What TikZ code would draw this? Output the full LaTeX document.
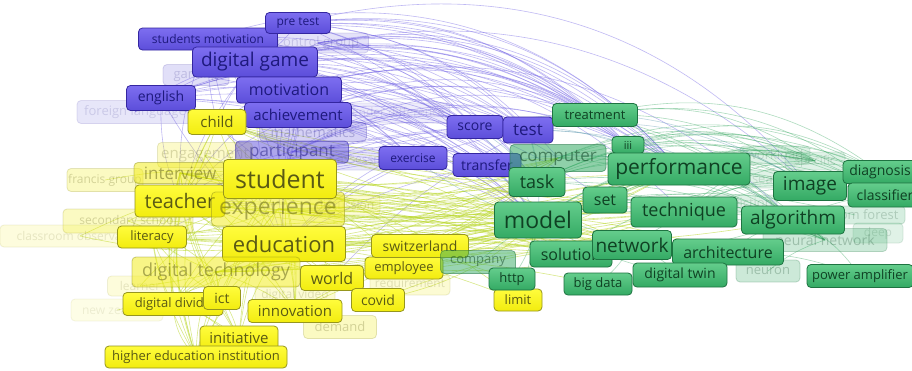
\documentclass[tikz,border=0pt]{standalone}
\usepackage{fontspec}
\setmainfont{Open Sans}
\usetikzlibrary{backgrounds}
\definecolor{pT}{RGB}{125,110,240}
\definecolor{pBo}{RGB}{92,78,218}
\definecolor{pB}{RGB}{52,38,160}
\definecolor{pX}{RGB}{30,25,125}
\definecolor{yT}{RGB}{255,252,60}
\definecolor{yBo}{RGB}{242,236,15}
\definecolor{yB}{RGB}{150,150,30}
\definecolor{yX}{RGB}{90,90,20}
\definecolor{gT}{RGB}{100,205,140}
\definecolor{gBo}{RGB}{52,170,100}
\definecolor{gB}{RGB}{30,115,65}
\definecolor{gX}{RGB}{15,65,35}
\definecolor{eP}{RGB}{115,100,230}
\definecolor{eY}{RGB}{185,215,40}
\definecolor{eG}{RGB}{60,170,100}
\definecolor{eT}{RGB}{90,150,175}
\tikzset{
  kw/.style={rounded corners=4pt, inner sep=0pt, line width=0.8pt, align=center},
  wh/.style 2 args={minimum width=#1, minimum height=#2},
  fs/.style={font=\fontsize{#1}{#1}\selectfont},
  P/.style={kw, draw=pB, top color=pT, bottom color=pBo, text=pX},
  Y/.style={kw, draw=yB, top color=yT, bottom color=yBo, text=yX},
  G/.style={kw, draw=gB, top color=gT, bottom color=gBo, text=gX},
  PF/.style={kw, draw=pB, fill=pBo, text=pX, opacity=#1},
  YF/.style={kw, draw=yB, fill=yBo, text=yX, opacity=#1},
  GF/.style={kw, draw=gB, fill=gBo, text=gX, opacity=#1},
  lP/.style={draw=eP, line width=0.6pt, opacity=0.45},
  lY/.style={draw=eY, line width=0.6pt, opacity=0.55},
  lG/.style={draw=eG, line width=0.6pt, opacity=0.42},
  lT/.style={draw=eT, line width=0.6pt, opacity=0.4},
}
\begin{document}
\begin{tikzpicture}[x=1pt,y=-1pt]
\useasboundingbox (0,0) rectangle (912,370);
\clip (0,0) rectangle (912,370);
% ---------- faded nodes ----------
\node[PF=0.16,fs=13,wh={101}{20}] (controlgroup) at (318,43) {control group};
\node[PF=0.18,fs=13,wh={66}{21}] (gaming) at (196,75) {gaming};
\node[PF=0.14,fs=13,wh={116}{23}] (foreign) at (135,112) {foreign language};
\node[PF=0.1,fs=12,wh={110}{20}] (genderdiff) at (395,113) {gender difference};
\node[PF=0.25,fs=14,wh={107}{19}] (mathematics) at (313,132) {mathematics};
\node[PF=0.14,fs=12,wh={80}{20}] (assessment) at (370,160) {assessment};
\node[YF=0.22,fs=15,wh={95}{25}] (engagement) at (205,155) {engagement};
\node[PF=0.5,fs=17,wh={113}{22}] (participant) at (292,152) {participant};
\node[YF=0.25,fs=12,wh={76}{23}] (francis) at (105,180) {francis group};
\node[YF=0.5,fs=17,wh={92}{21}] (interview) at (180,173) {interview};
\node[YF=0.25,fs=12,wh={130}{24}] (secondary) at (128,221) {secondary school};
\node[YF=0.14,fs=12,wh={160}{22}] (classroom) at (80,236) {classroom observation};
\node[YF=0.15,fs=12,wh={65}{20}] (learner) at (140,286) {learner};
\node[YF=0.1,fs=12,wh={92}{22}] (newzealand) at (117,310) {new zealand};
\node[YF=0.18,fs=12,wh={80}{18}] (digvideo) at (295,295) {digital video};
\node[YF=0.25,fs=13,wh={73}{23}] (demand) at (340,327) {demand};
\node[YF=0.18,fs=12,wh={80}{20}] (requirement) at (410,285) {requirement};
\node[YF=0.16,fs=12,wh={70}{20}] (discussion) at (345,205) {discussion};
\node[GF=0.15,fs=13,wh={70}{18}] (workload) at (775,155) {workload};
\node[GF=0.15,fs=12,wh={60}{18}] (specific) at (815,161) {specific};
\node[GF=0.15,fs=13,wh={60}{18}] (search) at (772,179) {search};
\node[GF=0.15,fs=13,wh={70}{18}] (prediction) at (742,204) {prediction};
\node[GF=0.2,fs=13,wh={100}{18}] (randomforest) at (855,215) {random forest};
\node[GF=0.15,fs=12,wh={50}{20}] (deep) at (878,233) {deep};
\node[GF=0.25,fs=14,wh={124}{23}] (neuralnet) at (825,240) {neural network};
\node[GF=0.25,fs=13,wh={64}{22}] (neuron) at (768,271) {neuron};
% ---------- purple ----------
\node[P,fs=12,wh={139}{22}] (studmot) at (208,39) {students motivation};
\node[P,fs=12,wh={65}{21}] (pretest) at (298,23) {pre test};
\node[P,fs=19,wh={125}{30}] (diggame) at (255,62) {digital game};
\node[P,fs=14,wh={69}{25}] (english) at (161,98) {english};
\node[P,fs=16,wh={105}{26}] (motiv) at (289,90) {motivation};
\node[P,fs=15,wh={107}{25}] (achiev) at (298,115) {achievement};
\node[P,fs=12,wh={68}{23}] (exercise) at (413,158) {exercise};
\node[P,fs=14,wh={68}{23}] (transfer) at (487,165) {transfer};
\node[P,fs=14,wh={56}{23}] (score) at (475,127) {score};
\node[P,fs=17,wh={50}{26}] (test) at (528,130) {test};
% ---------- yellow ----------
\node[Y,fs=15,wh={58}{25}] (child) at (217,122) {child};
\node[Y,fs=20,wh={90}{32}] (teacher) at (180,201) {teacher};
\node[YF=0.5,fs=23,wh={133}{34}] (experience) at (278,209) {experience};
\node[Y,fs=25,wh={113}{39}] (student) at (280,179) {student};
\node[Y,fs=13,wh={69}{22}] (literacy) at (152,237) {literacy};
\node[Y,fs=22,wh={123}{35}] (education) at (284,244) {education};
\node[YF=0.5,fs=18,wh={168}{30}] (digtech) at (216,272) {digital technology};
\node[Y,fs=16,wh={63}{25}] (world) at (332,278) {world};
\node[Y,fs=13,wh={100}{23}] (digdivide) at (173,304) {digital divide};
\node[Y,fs=14,wh={37}{23}] (ict) at (222,298) {ict};
\node[Y,fs=15,wh={94}{23}] (innovation) at (295,311) {innovation};
\node[Y,fs=15,wh={78}{24}] (initiative) at (239,338) {initiative};
\node[Y,fs=13,wh={182}{22}] (hei) at (196,357) {higher education institution};
\node[Y,fs=13,wh={78}{22}] (employee) at (404,268) {employee};
\node[Y,fs=14,wh={97}{23}] (switz) at (420,246) {switzerland};
\node[Y,fs=14,wh={53}{23}] (covid) at (378,300) {covid};
\node[Y,fs=13,wh={48}{22}] (limit) at (518,300) {limit};
% ---------- green ----------
\node[GF=0.5,fs=13,wh={75}{23}] (company) at (478,262) {company};
\node[G,fs=13,wh={46}{22}] (http) at (512,279) {http};
\node[G,fs=13,wh={85}{23}] (treatment) at (595,115) {treatment};
\node[G,fs=11,wh={32}{17}] (iii) at (628,145) {iii};
\node[GF=0.55,fs=17,wh={96}{27}] (computer) at (558,158) {computer};
\node[G,fs=18,wh={56}{29}] (task) at (537,182) {task};
\node[G,fs=21,wh={142}{32}] (performance) at (679,169) {performance};
\node[G,fs=16,wh={44}{26}] (set) at (605,200) {set};
\node[G,fs=23,wh={87}{36}] (model) at (538,220) {model};
\node[G,fs=18,wh={106}{30}] (technique) at (684,212) {technique};
\node[G,fs=19,wh={73}{29}] (image) at (810,186) {image};
\node[G,fs=19,wh={103}{28}] (algorithm) at (793,220) {algorithm};
\node[G,fs=14,wh={74}{23}] (diagnosis) at (880,172) {diagnosis};
\node[G,fs=14,wh={74}{24}] (classifier) at (885,195) {classifier};
\node[G,fs=16,wh={82}{26}] (solution) at (571,254) {solution};
\node[G,fs=16,wh={111}{26}] (architecture) at (728,252) {architecture};
\node[G,fs=19,wh={79}{29}] (network) at (632,245) {network};
\node[G,fs=13,wh={68}{22}] (bigdata) at (598,284) {big data};
\node[G,fs=14,wh={94}{24}] (digtwin) at (680,275) {digital twin};
\node[G,fs=13,wh={106}{23}] (poweramp) at (860,276) {power amplifier};
% ---------- edges ----------
\begin{scope}[on background layer]
\fill[white] (0,0) rectangle (912,370);
% purple long arcs
\foreach \b/\c in {test/20, score/16, treatment/24, performance/28, task/18, model/14, iii/26}
  \foreach \a in {diggame, motiv, achiev, studmot, pretest, english, controlgroup, participant, gaming}
    \draw[lP] (\a.center) to[bend left=\c] (\b.center);
\foreach \a/\b/\c in {diggame/image/30, motiv/algorithm/30, achiev/set/20, diggame/technique/25, pretest/image/32, studmot/performance/34, motiv/computer/18, pretest/computer/22, controlgroup/performance/30}
  \draw[lP] (\a.center) to[bend left=\c] (\b.center);
% purple local and to yellow
\foreach \b/\c in {student/10, education/-10, teacher/-12, exercise/12, transfer/10, child/-8}
  \foreach \a in {diggame, motiv, achiev, english, studmot, participant}
    \draw[lP] (\a.center) to[bend left=\c] (\b.center);
\foreach \a/\b/\c in {english/diggame/10, english/motiv/10, studmot/diggame/10, pretest/diggame/10, achiev/participant/10, diggame/score/15, participant/exercise/5, mathematics/test/15, score/education/-15, test/student/-10, exercise/education/-10, transfer/student/-10, gaming/motiv/10, foreign/english/10, foreign/diggame/15, controlgroup/diggame/10, test/education/-15, score/student/-10, test/teacher/-12, score/teacher/-10, exercise/student/-8, transfer/education/-10, test/world/-10, exercise/literacy/-10}
  \draw[lP] (\a.center) to[bend left=\c] (\b.center);
% yellow to green middle band
\foreach \b/\c in {model/-8, task/-10, computer/-10, network/8, solution/8, performance/-12, set/-8, technique/-6}
  \foreach \a in {student, education, experience, teacher, digtech, world, interview, child, switz, literacy}
    \draw[lY] (\a.center) to[bend left=\c] (\b.center);
\foreach \a/\b/\c in {employee/network/-10, engagement/model/-10, world/company/5, education/http/10, student/algorithm/-15, education/architecture/15, covid/model/-15, innovation/network/15, digtech/bigdata/10, education/switz/5, education/world/5, student/switz/10, experience/switz/10, education/covid/10, student/employee/10, teacher/switz/8, student/limit/10, education/limit/8, innovation/model/10, covid/network/10}
  \draw[lY] (\a.center) to[bend left=\c] (\b.center);
% yellow internal
\foreach \b/\c in {hei/-12, digdivide/-10, initiative/-10, literacy/8, ict/-8, innovation/8}
  \foreach \a in {student, education, teacher, digtech, interview, experience}
    \draw[lY] (\a.center) to[bend left=\c] (\b.center);
\foreach \a/\b/\c in {student/education/10, student/teacher/10, education/teacher/-10, student/child/10, teacher/child/-10, student/interview/10, education/secondary/-10, hei/ict/-10, literacy/hei/-10, secondary/student/10, child/education/-10, engagement/education/-10, francis/student/10, classroom/student/10, classroom/education/-10, newzealand/education/-10, learner/education/-10, learner/student/10, digdivide/initiative/10, digdivide/literacy/10, hei/initiative/10, world/education/5, world/student/-5, innovation/student/-10, teacher/world/-10, ict/literacy/10, child/digdivide/-15, engagement/hei/-15, secondary/digtech/10, digdivide/hei/-20, literacy/initiative/-20, ict/initiative/10, child/hei/-25, interview/hei/-20}
  \draw[lY] (\a.center) to[bend left=\c] (\b.center);
% green internal dome
\foreach \b/\c in {image/20, algorithm/15, diagnosis/25, classifier/25, specific/22, neuralnet/12}
  \foreach \a in {model, task, computer, set, performance, treatment, iii, technique}
    \draw[lG] (\a.center) to[bend left=\c] (\b.center);
\foreach \a/\b/\c in {model/randomforest/15, model/performance/15, task/performance/15, computer/performance/10, model/technique/10, network/architecture/10, solution/network/10, model/network/10, http/model/-10, bigdata/network/-10, digtwin/network/-10, digtwin/architecture/10, poweramp/architecture/-10, poweramp/algorithm/-15, neuron/neuralnet/10, architecture/algorithm/10, solution/algorithm/-10, model/digtwin/-10, company/model/5, limit/model/-5, task/technique/10, set/technique/10, performance/search/10, model/prediction/10, performance/workload/15, task/workload/20, image/diagnosis/10, image/classifier/10, algorithm/classifier/10, network/image/15, solution/image/18}
  \draw[lG] (\a.center) to[bend left=\c] (\b.center);
% mixed
\foreach \a/\b/\c in {test/performance/15, test/model/10, score/model/10, test/image/20, score/performance/15, transfer/model/10, exercise/model/-10, test/treatment/10, test/task/10, score/task/10, exercise/task/-10, transfer/task/5, test/algorithm/18, score/image/22, transfer/performance/12}
  \draw[lT] (\a.center) to[bend left=\c] (\b.center);
\end{scope}
\end{tikzpicture}
\end{document}
